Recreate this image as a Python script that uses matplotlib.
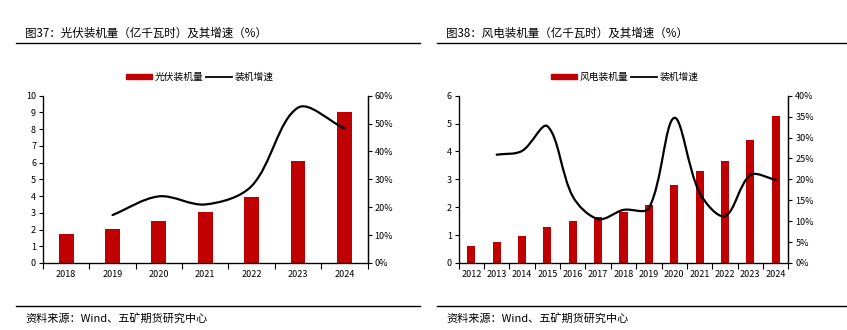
import matplotlib
matplotlib.use('Agg')
import matplotlib.pyplot as plt
from matplotlib.path import Path
from matplotlib.patches import PathPatch
from matplotlib.lines import Line2D
from matplotlib.ticker import FuncFormatter, FixedLocator
import numpy as np

plt.rcParams['font.family'] = ['Noto Sans CJK SC', 'DejaVu Sans']

# 图37 光伏
pv_years = ['2018', '2019', '2020', '2021', '2022', '2023', '2024']
pv_install = [1.73, 2.03, 2.52, 3.06, 3.93, 6.09, 9.03]
pv_growth = [None, 17.2, 23.9, 21.0, 27.6, 55.7, 48.3]

# 图38 风电
wind_years = ['2012', '2013', '2014', '2015', '2016', '2017', '2018',
              '2019', '2020', '2021', '2022', '2023', '2024']
wind_install = [0.62, 0.75, 0.98, 1.30, 1.49, 1.66, 1.84, 2.09, 2.81, 3.31, 3.67, 4.42, 5.28]
wind_growth = [None, 25.9, 26.8, 32.7, 15.9, 10.5, 12.7, 13.1, 34.7, 16.8, 11.2, 21.0, 19.9]

RED = '#C00000'


def smooth_path(ax, xs, ys):
    # Excel-style smoothed line, control points worked out in screen space
    pts = ax.transData.transform(np.column_stack([xs, ys]))
    n = len(pts)
    verts = [pts[0]]
    codes = [Path.MOVETO]
    for i in range(n - 1):
        p0 = pts[i - 1] if i > 0 else pts[i]
        p1 = pts[i]
        p2 = pts[i + 1]
        p3 = pts[i + 2] if i + 2 < n else pts[i + 1]
        d01 = np.hypot(*(p1 - p0))
        d12 = np.hypot(*(p2 - p1))
        d23 = np.hypot(*(p3 - p2))
        c1 = p1 + (p2 - p0) * d12 / (d01 + d12) / 3.0
        c2 = p2 - (p3 - p1) * d12 / (d12 + d23) / 3.0
        verts += [c1, c2, p2]
        codes += [Path.CURVE4] * 3
    verts = ax.transData.inverted().transform(np.array(verts))
    return Path(verts, codes)


def draw_panel(fig, rect, years, install, growth, ymax, gmax, gstep, title,
               bar_name, line_name, title_x, line_x0, line_x1, legend_x):
    ax = fig.add_axes(rect)
    x = np.arange(len(years))
    ax.bar(x, install, width=0.32, color=RED, zorder=2)
    ax.set_xlim(-0.5, len(years) - 0.5)
    ax.set_ylim(0, ymax)
    ax.set_yticks(np.arange(0, ymax + 1, 1))
    ax.set_xticks(x)
    ax.set_xticklabels(years)
    ax.xaxis.set_minor_locator(FixedLocator(np.arange(-0.5, len(years), 1)))
    ax.tick_params(axis='x', which='major', length=0, labelsize=6.5, pad=5)
    ax.tick_params(axis='x', which='minor', length=4, width=0.8, direction='out')
    ax.tick_params(axis='y', length=3, width=0.8, labelsize=6.5, pad=2)
    ax.spines['top'].set_visible(False)
    for s in ['left', 'bottom', 'right']:
        ax.spines[s].set_linewidth(0.9)

    ax2 = ax.twinx()
    ax2.set_ylim(0, gmax)
    ax2.set_yticks(np.arange(0, gmax + 0.1, gstep))
    ax2.yaxis.set_major_formatter(FuncFormatter(lambda v, p: f'{int(v)}%'))
    ax2.tick_params(axis='y', length=3, width=0.8, labelsize=6.5, pad=2)
    ax2.spines['top'].set_visible(False)
    ax2.spines['right'].set_linewidth(0.9)

    gx = [i for i, g in enumerate(growth) if g is not None]
    gy = [g for g in growth if g is not None]
    patch = PathPatch(smooth_path(ax2, gx, gy), facecolor='none', edgecolor='black',
                      lw=1.6, zorder=3, capstyle='round')
    ax2.add_patch(patch)

    handles = [plt.Rectangle((0, 0), 1, 1, color=RED), Line2D([], [], color='black', lw=1.3)]
    fig.legend(handles, [bar_name, line_name], loc='center', ncol=2,
               bbox_to_anchor=(legend_x, 1 - 77 / 330), frameon=False, fontsize=7,
               handlelength=2.6, handleheight=0.5, handletextpad=0.3, columnspacing=0.3)

    fig.text(title_x, 1 - 33 / 330, title, fontsize=8.3, va='center', ha='left')
    fig.add_artist(Line2D([line_x0, line_x1], [1 - 43 / 330] * 2, color='black', lw=1.0))
    fig.add_artist(Line2D([line_x0, line_x1], [1 - 306 / 330] * 2, color='black', lw=1.0))
    fig.text(title_x, 1 - 318 / 330, '资料来源：Wind、五矿期货研究中心', fontsize=8,
             va='center', ha='left')
    return ax


fig = plt.figure(figsize=(8.47, 3.30), dpi=100)

bot = 1 - 263 / 330
top = 1 - 95.7 / 330
draw_panel(fig, [43 / 847, bot, (367.5 - 43) / 847, top - bot],
           pv_years, pv_install, pv_growth, 10, 60, 10,
           '图37：光伏装机量（亿千瓦时）及其增速（%）', '光伏装机量', '装机增速',
           25 / 847, 16 / 847, 420 / 847, 200 / 847)
draw_panel(fig, [458.7 / 847, bot, (788.3 - 458.7) / 847, top - bot],
           wind_years, wind_install, wind_growth, 6, 40, 5,
           '图38：风电装机量（亿千瓦时）及其增速（%）', '风电装机量', '装机增速',
           446 / 847, 437 / 847, 847 / 847, 625 / 847)

fig.savefig('out.png', dpi=100)
